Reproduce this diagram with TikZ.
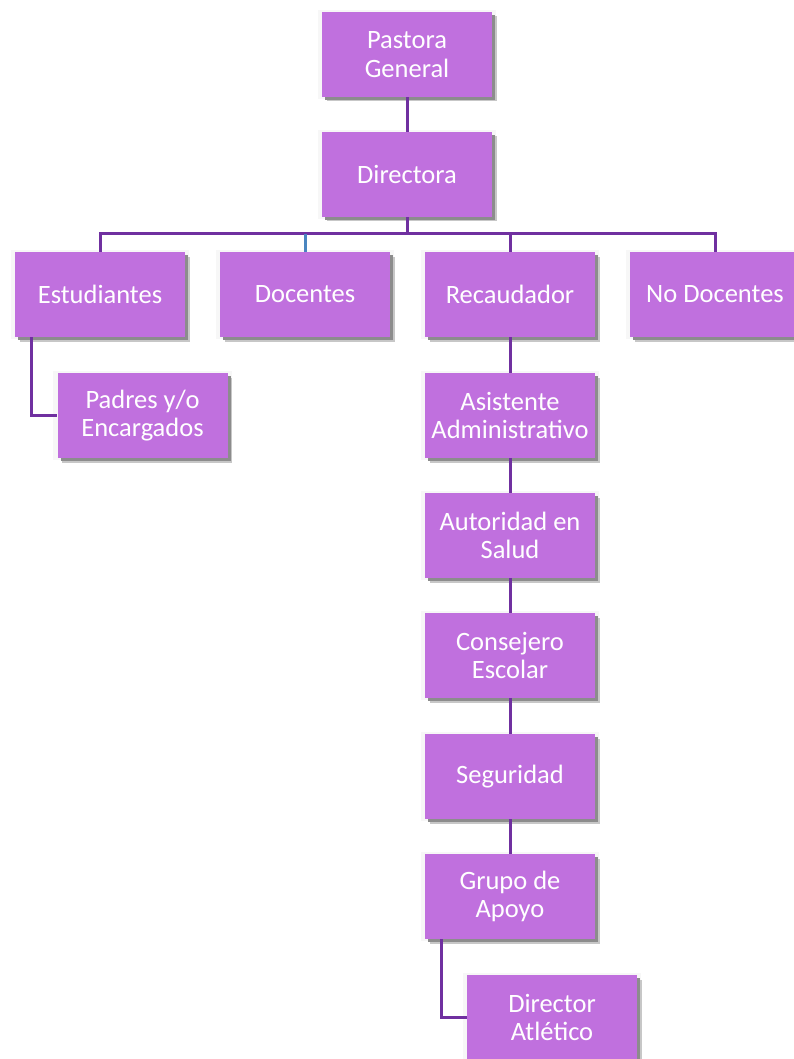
\documentclass[tikz,border=0pt]{standalone}
\usepackage{fontspec}
\setmainfont{Carlito}
\usetikzlibrary{shadows}
\definecolor{boxfill}{HTML}{C070DE}
\definecolor{linepurple}{HTML}{7030A0}
\definecolor{lineblue}{HTML}{4A86C0}
\begin{document}
\begin{tikzpicture}[x=1pt,y=-1pt,
  orgbox/.style={rectangle, fill=boxfill, minimum width=170pt, minimum height=85pt,
    inner sep=2pt, text=white, align=center, font=\fontsize{26.5}{28.5}\selectfont,
    general shadow={fill=black!3, shadow xshift=0pt, shadow yshift=0pt, shadow scale=1.05},
    general shadow={fill=black!22, shadow xshift=4.5pt, shadow yshift=-4.5pt},
    general shadow={fill=black!45, shadow xshift=3pt, shadow yshift=-3pt}},
  conn/.style={draw=linepurple, line width=3pt},
  connblue/.style={draw=lineblue, line width=3pt}]
\useasboundingbox (0,0) rectangle (794,1059);
\node[orgbox] (pg) at (407,54.5) {Pastora\\General};
\node[orgbox] (dir) at (407,174.5) {Directora};
\node[orgbox] (est) at (100,294.5) {Estudiantes};
\node[orgbox] (doc) at (305,294.5) {Docentes};
\node[orgbox] (rec) at (510,294.5) {Recaudador};
\node[orgbox] (nod) at (715,294.5) {No Docentes};
\node[orgbox] (pad) at (142.5,415.5) {Padres y/o\\Encargados};
\node[orgbox] (asi) at (510,415.5) {Asistente\\Administrativo};
\node[orgbox] (aut) at (510,535.5) {Autoridad en\\Salud};
\node[orgbox] (con) at (510,655.5) {Consejero\\Escolar};
\node[orgbox] (seg) at (510,776.5) {Seguridad};
\node[orgbox] (gru) at (510,896.5) {Grupo de\\Apoyo};
\node[orgbox] (dat) at (552,1017.5) {Director\\Atlético};
\coordinate (bar) at (407,234);
\draw[conn] (pg.south) -- (dir.north);
\draw[conn] (dir.south) -- (bar);
\draw[conn] (bar) -| (est.north);
\draw[conn] (bar) -| (rec.north);
\draw[conn] (bar) -| (nod.north);
\draw[connblue] (bar -| doc.north) -- (doc.north);
\draw[conn] ([xshift=17pt]est.south west) |- (pad.west);
\draw[conn] (rec.south) -- (asi.north);
\draw[conn] (asi.south) -- (aut.north);
\draw[conn] (aut.south) -- (con.north);
\draw[conn] (con.south) -- (seg.north);
\draw[conn] (seg.south) -- (gru.north);
\draw[conn] ([xshift=17pt]gru.south west) |- (dat.west);
\end{tikzpicture}
\end{document}
